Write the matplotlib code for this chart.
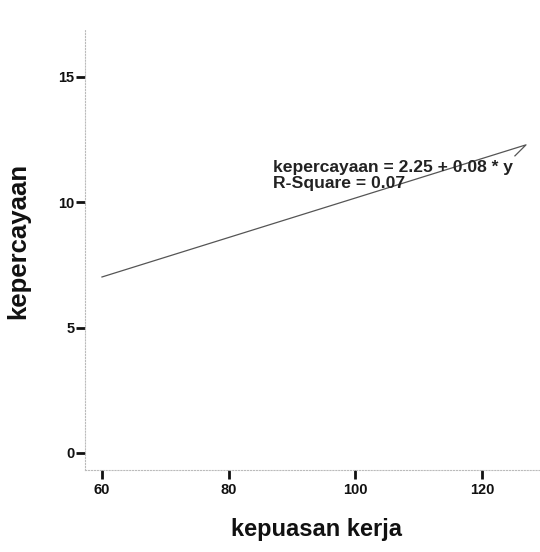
import matplotlib
matplotlib.use("Agg")
import matplotlib.pyplot as plt

# fit line path
line_x = [60.0, 126.95, 125.2]
line_y = [7.02, 12.29, 11.85]

x_ticks = [60, 80, 100, 120]
y_ticks = [0, 5, 10, 15]

eq_lines = ["kepercayaan = 2.25 + 0.08 * y", "R-Square = 0.07"]

plt.rcParams["font.family"] = ["Liberation Sans", "DejaVu Sans"]
plt.rcParams["font.weight"] = "bold"

fig = plt.figure(figsize=(5.4, 5.52), dpi=100)
ax = fig.add_axes([85 / 540, 82 / 552, 455 / 540, 440 / 552])

ax.plot(line_x, line_y, color="#555555", lw=0.9)

ax.set_xlim(57.32, 129.16)
ax.set_ylim(-0.678, 16.87)

ax.set_xticks(x_ticks)
ax.set_yticks(y_ticks)
ax.tick_params(axis="both", direction="out", length=6.5, width=2.0,
               color="#111111", labelsize=10.5, labelcolor="#111111")
ax.tick_params(axis="y", pad=1)
ax.tick_params(axis="x", pad=3)

for side in ["top", "right"]:
    ax.spines[side].set_visible(False)
for side in ["left", "bottom"]:
    ax.spines[side].set_linestyle(":")
    ax.spines[side].set_color("#bbbbbb")
    ax.spines[side].set_linewidth(0.8)

ax.set_xlabel("kepuasan kerja", fontsize=17, fontweight="bold",
              color="#111111")
ax.set_ylabel("kepercayaan", fontsize=18.5, fontweight="bold",
              color="#111111")
ax.xaxis.set_label_coords(0.508, -0.11)
ax.yaxis.set_label_coords(-0.12, 0.52)

ax.text(87.0, 11.22, eq_lines[0], fontsize=12.6, fontweight="bold",
        color="#222222", va="baseline", ha="left")
ax.text(87.0, 10.58, eq_lines[1], fontsize=12.6, fontweight="bold",
        color="#222222", va="baseline", ha="left")

fig.savefig("out.png", dpi=100, facecolor="white")
